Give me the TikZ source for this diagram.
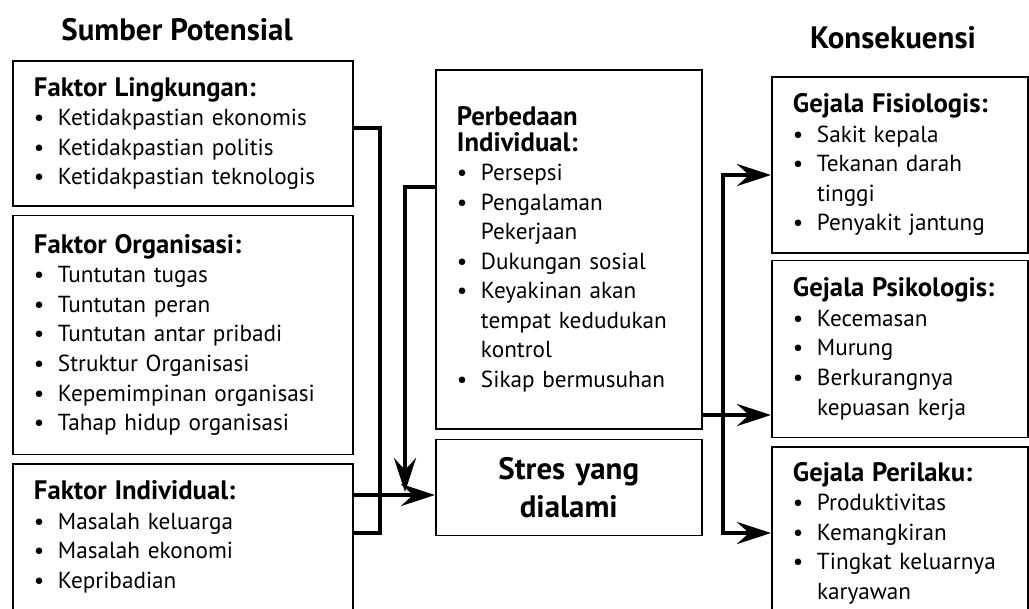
\documentclass[tikz,border=0pt]{standalone}
\usepackage{fontspec}
\setmainfont{PT Sans}
\usetikzlibrary{positioning, arrows.meta}

\newcommand{\itm}[1]{\makebox[0.6cm][l]{\textbullet}#1}
\newcommand{\cnt}[1]{\hspace*{0.6cm}#1}
\newcommand{\ttl}[1]{{\fontsize{19}{21}\selectfont\bfseries #1}}

\begin{document}
\begin{tikzpicture}[
    x=0.025cm, y=-0.025cm,
    box/.style={draw, line width=1.1pt, anchor=north west, align=left, inner xsep=0.53cm, inner ysep=0pt, font=\fontsize{16.5}{21}\selectfont},
    leftbox/.style={box, text width=7.44cm},
    midbox/.style={box, text width=5.59cm},
    rightbox/.style={box, text width=5.34cm},
    head/.style={font=\fontsize{22}{26}\selectfont\bfseries},
    conn/.style={line width=3.2pt},
    arr/.style={conn, -{Stealth[length=0.85cm, width=0.55cm, inset=0.3cm]}}
]
    \useasboundingbox (0,0) rectangle (1029,608);

    % column headings
    \node[head] (hsrc) at (177,30) {Sumber Potensial};
    \node[head] (hcons) at (893,38) {Konsekuensi};

    % potential sources
    \node[leftbox, minimum height=3.625cm] (ling) at (12,60) {\ttl{Faktor Lingkungan:}\\ \itm{Ketidakpastian ekonomis}\\ \itm{Ketidakpastian politis}\\ \itm{Ketidakpastian teknologis}};
    \node[leftbox, minimum height=5.975cm, below=0.2cm of ling.south west, anchor=north west] (org) {\ttl{Faktor Organisasi:}\\ \itm{Tuntutan tugas}\\ \itm{Tuntutan peran}\\ \itm{Tuntutan antar pribadi}\\ \itm{Struktur Organisasi}\\ \itm{Kepemimpinan organisasi}\\ \itm{Tahap hidup organisasi}};
    \node[leftbox, minimum height=3.65cm, below=0.2cm of org.south west, anchor=north west] (indiv) {\ttl{Faktor Individual:}\\ \itm{Masalah keluarga}\\ \itm{Masalah ekonomi}\\ \itm{Kepribadian}};

    % individual differences and experienced stress
    \node[midbox, minimum height=8.975cm] (perb) at (435,69) {\ttl{Perbedaan}\\[-3pt] \ttl{Individual:}\\ \itm{Persepsi}\\ \itm{Pengalaman}\\ \cnt{Pekerjaan}\\ \itm{Dukungan sosial}\\ \itm{Keyakinan akan}\\ \cnt{tempat kedudukan}\\ \cnt{kontrol}\\ \itm{Sikap bermusuhan}};
    \node[midbox, minimum height=2.4cm, align=center, font=\fontsize{22}{27}\selectfont\bfseries, below=0.225cm of perb.south west, anchor=north west] (stres) {Stres yang\\ dialami};

    % consequences
    \node[rightbox, minimum height=4.4cm] (fisio) at (771,76) {\ttl{Gejala Fisiologis:}\\ \itm{Sakit kepala}\\ \itm{Tekanan darah}\\ \cnt{tinggi}\\ \itm{Penyakit jantung}};
    \node[rightbox, minimum height=4.425cm, below=0.15cm of fisio.south west, anchor=north west] (psik) {\ttl{Gejala Psikologis:}\\ \itm{Kecemasan}\\ \itm{Murung}\\ \itm{Berkurangnya}\\ \cnt{kepuasan kerja}};
    \node[rightbox, minimum height=4.3cm, below=0.2cm of psik.south west, anchor=north west] (peril) {\ttl{Gejala Perilaku:}\\ \itm{Produktivitas}\\ \itm{Kemangkiran}\\ \itm{Tingkat keluarnya}\\ \cnt{karyawan}};

    % junction points
    \coordinate (ltop) at (380,128);
    \coordinate (lbot) at (380,533);
    \coordinate (inY) at (352,495);
    \coordinate (mod) at (405,187);
    \coordinate (modend) at (405,492);
    \coordinate (jt) at (723,175);
    \coordinate (jm) at (723,415);
    \coordinate (jb) at (723,533);

    % connectors
    \draw[conn] (ling.east |- ltop) -- (ltop) -- (lbot) -- (indiv.east |- lbot);
    \draw[arr] (indiv.east |- inY) -- (stres.west |- inY);
    \draw[arr] (perb.west |- mod) -- (mod) -- (modend);
    \draw[arr] (perb.east |- jm) -- (psik.west |- jm);
    \draw[arr] (jb) -- (jt) -- (fisio.west |- jt);
    \draw[arr] (jt) -- (jb) -- (peril.west |- jb);
\end{tikzpicture}
\end{document}
